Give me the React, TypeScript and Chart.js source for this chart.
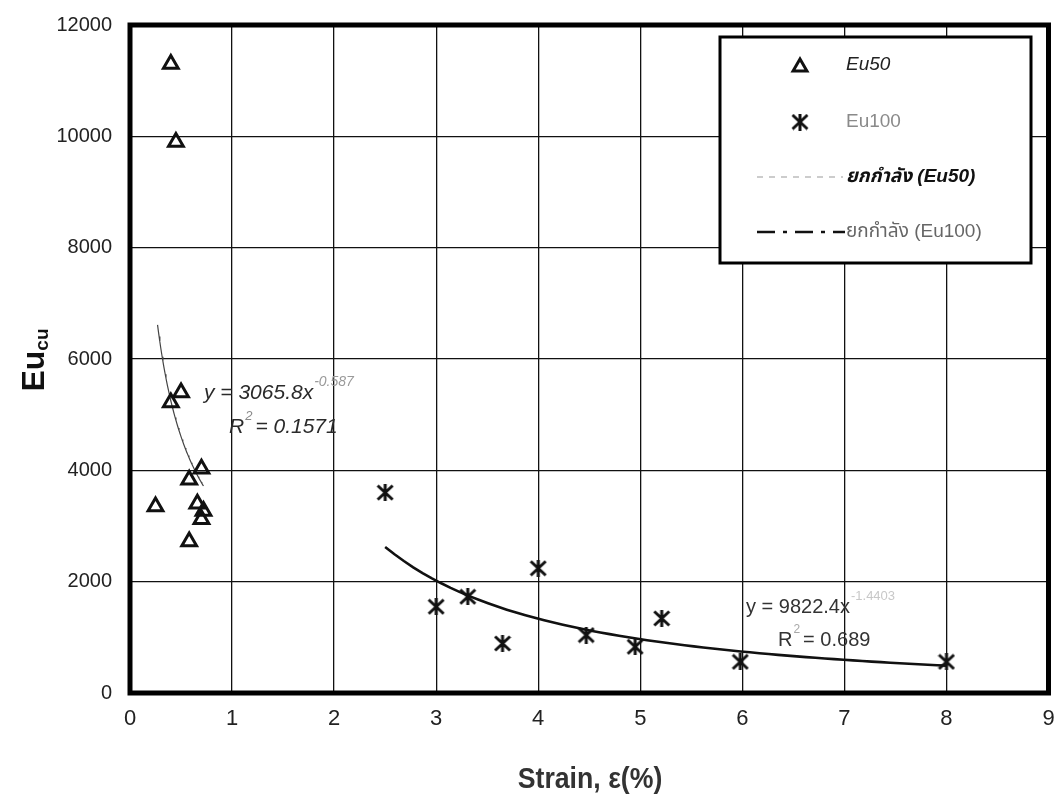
import React, { useEffect, useRef } from "react";
import { Chart, registerables } from "chart.js";

Chart.register(...registerables);

// Axis ticks
const strainTicks = [0, 1, 2, 3, 4, 5, 6, 7, 8, 9];
const modulusTicks = [0, 2000, 4000, 6000, 8000, 10000, 12000];

// Eu50 measurements (strain %, modulus)
const eu50Strain = [0.4, 0.45, 0.5, 0.4, 0.7, 0.58, 0.25, 0.66, 0.72, 0.7, 0.58];
const eu50Modulus = [11300, 9900, 5400, 5220, 4030, 3830, 3350, 3400, 3270, 3120, 2720];

// Eu100 measurements (strain %, modulus)
const eu100Strain = [2.5, 3.0, 3.31, 3.65, 4.0, 4.47, 4.95, 5.21, 5.98, 8.0];
const eu100Modulus = [3600, 1550, 1730, 890, 2240, 1040, 830, 1340, 560, 560];

// Power-law trend lines y = a * x^b
const fit50Coef = 3065.8;
const fit50Exp = -0.587;
const fit50R2 = "0.1571";
const fit50Range = [0.27, 0.72];

const fit100Coef = 9822.4;
const fit100Exp = -1.4403;
const fit100R2 = "0.689";
const fit100Range = [2.5, 8.0];

const SANS = "'Liberation Sans', Arial, 'DejaVu Sans', sans-serif";
const NARROW = "'Liberation Sans Narrow', 'Arial Narrow', 'Liberation Sans', sans-serif";
const THAI = "'Liberation Sans', 'Noto Sans Thai', 'Noto Sans', 'DejaVu Sans', sans-serif";

function powerCurve(a: number, b: number, range: number[]) {
  const pts: { x: number; y: number }[] = [];
  const n = 60;
  for (let i = 0; i <= n; i++) {
    const x = range[0] + ((range[1] - range[0]) * i) / n;
    pts.push({ x, y: a * Math.pow(x, b) });
  }
  return pts;
}

// asterisk-style marker: an X crossed by a vertical stroke
function makeStarMarker(w: number, h: number, lw: number) {
  const c = document.createElement("canvas");
  c.width = w;
  c.height = h;
  const g = c.getContext("2d")!;
  g.strokeStyle = "#111";
  g.lineWidth = lw;
  g.lineCap = "butt";
  const m = lw * 0.5;
  g.beginPath();
  g.moveTo(m, m);
  g.lineTo(w - m, h - m);
  g.moveTo(w - m, m);
  g.lineTo(m, h - m);
  g.moveTo(w / 2, 0);
  g.lineTo(w / 2, h);
  g.stroke();
  return c;
}

function drawTriangle(ctx: CanvasRenderingContext2D, x: number, y: number, r: number) {
  const step = (2 * Math.PI) / 3;
  ctx.beginPath();
  for (let k = 0; k < 3; k++) {
    const a = k * step;
    const px = x + Math.sin(a) * r;
    const py = y - Math.cos(a) * r;
    if (k === 0) ctx.moveTo(px, py);
    else ctx.lineTo(px, py);
  }
  ctx.closePath();
  ctx.stroke();
}

function superText(
  ctx: CanvasRenderingContext2D,
  x: number,
  y: number,
  base: string,
  sup: string,
  baseFont: string,
  supFont: string,
  baseColor: string,
  supColor: string,
  rest = ""
) {
  ctx.font = baseFont;
  ctx.fillStyle = baseColor;
  ctx.fillText(base, x, y);
  const w = ctx.measureText(base).width;
  ctx.font = supFont;
  ctx.fillStyle = supColor;
  ctx.fillText(sup, x + w + 1, y - 13);
  const w2 = ctx.measureText(sup).width;
  if (rest) {
    ctx.font = baseFont;
    ctx.fillStyle = baseColor;
    ctx.fillText(rest, x + w + w2 + 4, y);
  }
}

function makeOverlay(star: HTMLCanvasElement) {
  return {
    id: "overlay",
    afterDraw(chart: any) {
      const { ctx, chartArea } = chart;
      const { left, top, right, bottom } = chartArea;
      ctx.save();

      // heavy plot frame
      ctx.strokeStyle = "#000";
      ctx.lineWidth = 5;
      ctx.strokeRect(left, top, right - left, bottom - top);

      // trend equations
      ctx.textBaseline = "alphabetic";
      ctx.textAlign = "left";
      superText(
        ctx, 204, 399,
        `y = ${fit50Coef}x`, `${fit50Exp}`,
        `italic 21px ${SANS}`, `italic 14px ${SANS}`, "#2a2a2a", "#9a9a9a"
      );
      superText(
        ctx, 229, 433,
        "R", "2", `italic 21px ${SANS}`, `italic 13px ${SANS}`, "#2a2a2a", "#8a8a8a",
        `= ${fit50R2}`
      );
      superText(
        ctx, 746, 613,
        `y = ${fit100Coef}x`, `${fit100Exp}`,
        `20px ${SANS}`, `13px ${SANS}`, "#333", "#c8c8c8"
      );
      superText(
        ctx, 778, 646,
        "R", "2", `20px ${SANS}`, `12px ${SANS}`, "#333", "#a8a8a8",
        `= ${fit100R2}`
      );

      // legend box
      const lx = 720, ly = 37, lw = 311, lh = 226;
      ctx.fillStyle = "#fff";
      ctx.fillRect(lx, ly, lw, lh);
      ctx.lineWidth = 3;
      ctx.strokeStyle = "#000";
      ctx.strokeRect(lx, ly, lw, lh);

      const tx = 846;
      ctx.textBaseline = "middle";

      ctx.lineWidth = 3;
      ctx.strokeStyle = "#111";
      drawTriangle(ctx, 800, 67, 8);
      ctx.font = `italic 19px ${SANS}`;
      ctx.fillStyle = "#222";
      ctx.fillText("Eu50", tx, 65);

      ctx.drawImage(star, 800 - star.width / 2, 122 - star.height / 2);
      ctx.font = `19px ${SANS}`;
      ctx.fillStyle = "#8a8a8a";
      ctx.fillText("Eu100", tx, 122);

      ctx.setLineDash([6, 6]);
      ctx.lineWidth = 1.1;
      ctx.strokeStyle = "#999";
      ctx.beginPath();
      ctx.moveTo(757, 177);
      ctx.lineTo(843, 177);
      ctx.stroke();
      ctx.setLineDash([]);
      ctx.font = `italic bold 19px ${THAI}`;
      ctx.fillStyle = "#111";
      ctx.fillText("ยกกำลัง (Eu50)", tx, 177);

      ctx.setLineDash([18, 8, 4, 8]);
      ctx.lineWidth = 2.6;
      ctx.strokeStyle = "#111";
      ctx.beginPath();
      ctx.moveTo(757, 232);
      ctx.lineTo(845, 232);
      ctx.stroke();
      ctx.setLineDash([]);
      ctx.font = `19px ${THAI}`;
      ctx.fillStyle = "#666";
      ctx.fillText("ยกกำลัง (Eu100)", tx, 232);

      // x-axis title
      ctx.save();
      ctx.textAlign = "center";
      ctx.textBaseline = "alphabetic";
      ctx.translate(590, 788);
      ctx.scale(0.92, 1);
      ctx.font = `bold 29px ${NARROW}`;
      ctx.fillStyle = "#333";
      ctx.fillText("Strain, ε(%)", 0, 0);
      ctx.restore();

      // y-axis title with subscript
      ctx.translate(44, 360);
      ctx.rotate(-Math.PI / 2);
      ctx.textAlign = "left";
      ctx.textBaseline = "alphabetic";
      ctx.font = `bold 32px ${SANS}`;
      const w1 = ctx.measureText("Eu").width;
      ctx.font = `bold 19px ${SANS}`;
      const w2 = ctx.measureText("cu").width;
      const start = -(w1 + w2) / 2;
      ctx.font = `bold 32px ${SANS}`;
      ctx.fillStyle = "#111";
      ctx.fillText("Eu", start, 0);
      ctx.font = `bold 19px ${SANS}`;
      ctx.fillText("cu", start + w1, 4);

      ctx.restore();
    },
  };
}

export default function App() {
  const ref = useRef<HTMLCanvasElement>(null);

  useEffect(() => {
    if (!ref.current) return;
    const starMarker = makeStarMarker(18, 17, 3);

    const chart = new Chart(ref.current, {
      type: "scatter",
      data: {
        datasets: [
          {
            label: "Eu50",
            data: eu50Strain.map((x, i) => ({ x, y: eu50Modulus[i] })),
            pointStyle: "triangle",
            pointRadius: 8.5,
            borderWidth: 3,
            borderColor: "#111",
            backgroundColor: "rgba(0,0,0,0)",
          },
          {
            label: "Eu100",
            data: eu100Strain.map((x, i) => ({ x, y: eu100Modulus[i] })),
            pointStyle: starMarker as any,
            pointRadius: 9,
            borderColor: "#111",
            backgroundColor: "#111",
          },
          {
            label: "ยกกำลัง (Eu50)",
            type: "line",
            data: powerCurve(fit50Coef, fit50Exp, fit50Range),
            showLine: true,
            pointRadius: 0,
            borderColor: "#444",
            borderWidth: 1.2,
            tension: 0,
            fill: false,
          } as any,
          {
            label: "ยกกำลัง (Eu100)",
            type: "line",
            data: powerCurve(fit100Coef, fit100Exp, fit100Range),
            showLine: true,
            pointRadius: 0,
            borderColor: "#111",
            borderWidth: 2.6,
            tension: 0,
            fill: false,
          } as any,
        ],
      },
      options: {
        animation: false,
        responsive: false,
        maintainAspectRatio: false,
        layout: { padding: { left: 0, top: 25, right: 8, bottom: 0 } },
        plugins: {
          legend: { display: false },
          tooltip: { enabled: false },
        },
        scales: {
          x: {
            type: "linear",
            min: 0,
            max: 9,
            afterBuildTicks: (s: any) => {
              s.ticks = strainTicks.map((v) => ({ value: v }));
            },
            afterFit: (s: any) => {
              s.height = 102;
              s.paddingLeft = 0;
              s.paddingRight = 0;
            },
            grid: { color: "#111", lineWidth: 1.3, drawTicks: false },
            border: { display: false },
            ticks: {
              padding: 13,
              color: "#222",
              font: { family: NARROW, size: 22 },
            },
          },
          y: {
            type: "linear",
            min: 0,
            max: 12000,
            afterBuildTicks: (s: any) => {
              s.ticks = modulusTicks.map((v) => ({ value: v }));
            },
            afterFit: (s: any) => {
              s.width = 130;
              s.paddingTop = 0;
              s.paddingBottom = 0;
            },
            grid: { color: "#111", lineWidth: 1.3, drawTicks: false },
            border: { display: false },
            ticks: {
              padding: 18,
              color: "#222",
              font: { family: SANS, size: 20 },
              callback: (v: any) => String(v),
            },
          },
        },
      },
      plugins: [makeOverlay(starMarker)],
    });

    return () => chart.destroy();
  }, []);

  return (
    <div style={{ position: "absolute", left: 0, top: 0, width: 1060, height: 795, background: "#fff" }}>
      <canvas ref={ref} width={1060} height={795} style={{ display: "block" }} />
    </div>
  );
}
